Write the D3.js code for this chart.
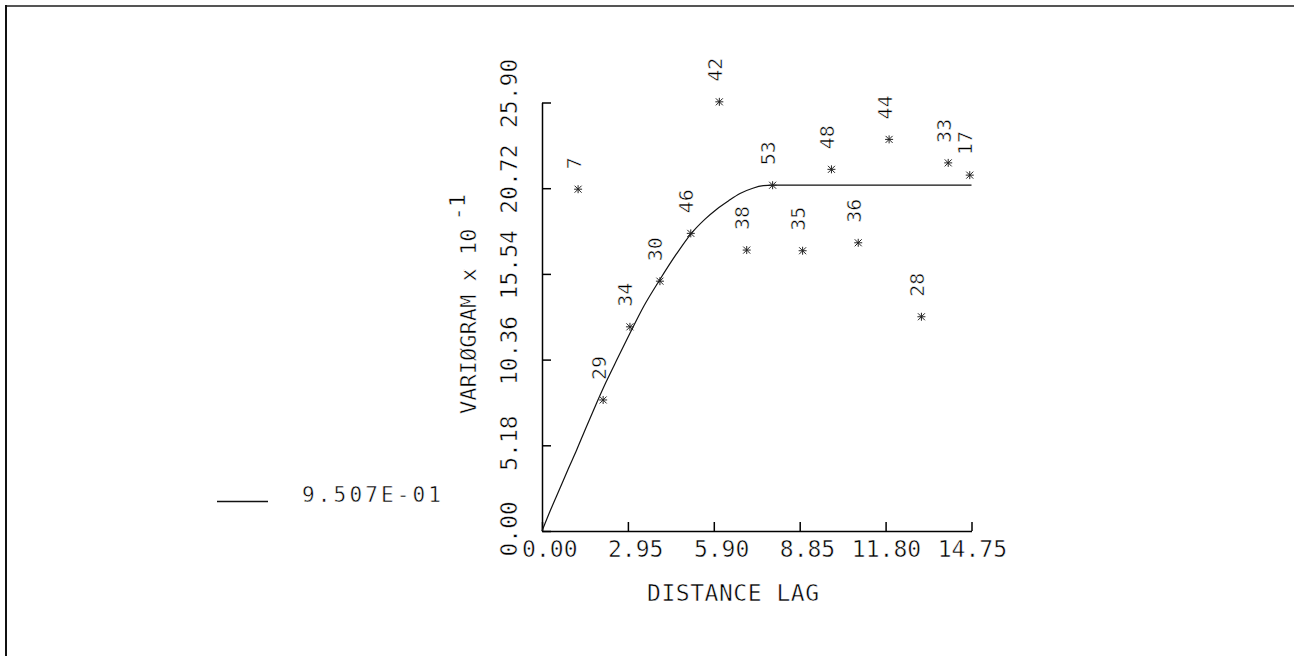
<!DOCTYPE html>
<html>
<head>
<meta charset="utf-8">
<script src="https://cdn.jsdelivr.net/npm/d3@7"></script>
<style>
  html, body { margin: 0; padding: 0; background: #fff; }
  svg { display: block; }
  text { font-family: "DejaVu Sans Mono", "Liberation Mono", monospace; fill: #000;
         stroke: #fff; stroke-width: 0.5px; paint-order: fill stroke; }
</style>
</head>
<body>
<svg id="chart" width="1294" height="656"></svg>
<script>
// ---- data ----
const lagDistance = [1.24, 2.10, 3.02, 4.05, 5.11, 6.09, 7.03, 7.92, 8.95, 9.94, 10.86, 11.92, 13.03, 13.95, 14.69];
const variogram   = [20.66, 7.92, 12.34, 15.10, 17.99, 25.94, 16.98, 20.90, 16.94, 21.86, 17.42, 23.67, 12.95, 22.25, 21.51];
const pairCounts  = [7, 29, 34, 30, 46, 42, 38, 53, 35, 48, 36, 44, 28, 33, 17];

const modelLag   = [0, 0.3, 0.62, 0.9, 1.19, 1.5, 1.88, 2.2, 2.6, 3.02, 3.5, 4.05, 4.6, 5.11, 5.6, 6.0, 6.4, 6.8, 7.24, 7.6, 7.92, 14.75];
const modelValue = [0, 1.3, 2.6, 3.75, 4.9, 6.2, 7.75, 9.0, 10.45, 11.95, 13.6, 15.2, 16.7, 17.95, 18.85, 19.45, 19.95, 20.4, 20.72, 20.87, 20.9, 20.9];

const xTickValues = [0, 2.95, 5.90, 8.85, 11.80, 14.75];
const xTickLabels = ["0.00", "2.95", "5.90", "8.85", "11.80", "14.75"];
const yTickValues = [0, 5.18, 10.36, 15.54, 20.72, 25.90];
const yTickLabels = ["0.00", "5.18", "10.36", "15.54", "20.72", "25.90"];

const xTitle = "DISTANCE LAG";
const yTitle = "VARIØGRAM x 10";
const yTitleExp = "-1";
const legendLabel = "9.507E-01";

// ---- layout ----
const svg = d3.select("#chart");
const x = d3.scaleLinear().domain([0, 14.75]).range([542, 971.5]);
const y = d3.scaleLinear().domain([0, 25.90]).range([531, 102.5]);

// frame (extends beyond the window on right/bottom)
svg.append("line").attr("x1", 5).attr("x2", 1294).attr("y1", 6).attr("y2", 6)
  .attr("stroke", "#555").attr("stroke-width", 2);
svg.append("line").attr("x1", 6).attr("x2", 6).attr("y1", 5).attr("y2", 656)
  .attr("stroke", "#111").attr("stroke-width", 2);

// x axis
const xAxis = svg.append("g").attr("transform", "translate(0,531)")
  .call(d3.axisBottom(x).tickValues(xTickValues).tickSize(-9).tickSizeOuter(0)
    .tickFormat((d, i) => xTickLabels[i]));
xAxis.select(".domain").attr("stroke", "#000").attr("stroke-width", 1.5);
xAxis.selectAll(".tick line").attr("stroke", "#000").attr("stroke-width", 1.5);
xAxis.selectAll(".tick text")
  .attr("text-anchor", "end").attr("x", 35).attr("y", 26).attr("dy", null)
  .style("font-size", "23px").style("font-family", "DejaVu Sans Mono").attr("fill", "#000");

// y axis
const yAxis = svg.append("g").attr("transform", "translate(542,0)")
  .call(d3.axisLeft(y).tickValues(yTickValues).tickSize(-9).tickSizeOuter(0)
    .tickFormat((d, i) => yTickLabels[i]));
yAxis.select(".domain").attr("stroke", "#000").attr("stroke-width", 1.5);
yAxis.selectAll(".tick line").attr("stroke", "#000").attr("stroke-width", 1.5);
yAxis.selectAll(".tick text")
  .attr("text-anchor", "start").attr("x", 0).attr("y", 0).attr("dy", null)
  .attr("transform", "translate(-25,25) rotate(-90)")
  .style("font-size", "23px").style("font-family", "DejaVu Sans Mono").attr("fill", "#000");

// axis titles
svg.append("text").attr("x", 647).attr("y", 601)
  .attr("textLength", 172).attr("lengthAdjust", "spacing")
  .style("font-size", "23px").text(xTitle);

const yt = svg.append("text")
  .attr("transform", "translate(476,414) rotate(-90)")
  .attr("text-anchor", "start")
  .style("font-size", "22px");
yt.append("tspan").text(yTitle);
yt.append("tspan").attr("dx", 8).attr("dy", -11).text(yTitleExp);

// model curve
const line = d3.line().curve(d3.curveMonotoneX)
  .x((d, i) => x(modelLag[i])).y((d, i) => y(modelValue[i]));
svg.append("path").datum(modelLag).attr("d", line)
  .attr("fill", "none").attr("stroke", "#111").attr("stroke-width", 1.2);

// experimental points
const markerPath = "M-4,0H4M-3.5,-3.5L3.5,3.5M-3.5,3.5L3.5,-3.5M0,-4V4";
const pts = svg.append("g").selectAll("g").data(lagDistance).join("g")
  .attr("transform", (d, i) => `translate(${x(d)},${y(variogram[i])})`);
pts.append("path").attr("d", markerPath).attr("stroke", "#222").attr("stroke-width", 1).attr("fill", "none");
pts.append("text")
  .attr("transform", "translate(2.5,-20) rotate(-90)")
  .attr("text-anchor", "start")
  .style("font-size", "20px")
  .text((d, i) => pairCounts[i]);

// legend
svg.append("line").attr("x1", 217).attr("x2", 268).attr("y1", 501.5).attr("y2", 501.5)
  .attr("stroke", "#111").attr("stroke-width", 1.5);
svg.append("text").attr("x", 302).attr("y", 502)
  .attr("textLength", 139).attr("lengthAdjust", "spacing")
  .style("font-size", "21px").text(legendLabel);
</script>
</body>
</html>
